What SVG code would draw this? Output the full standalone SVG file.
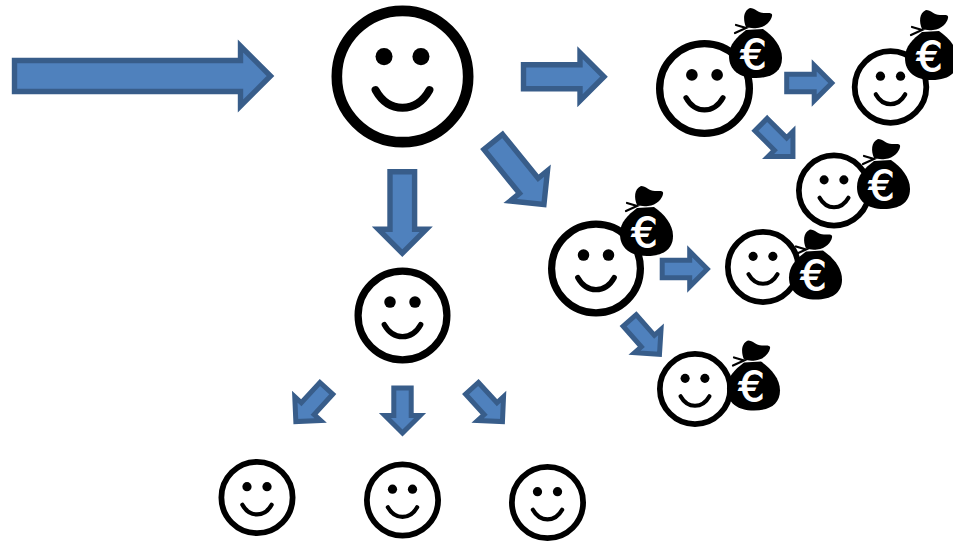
<svg xmlns="http://www.w3.org/2000/svg" width="953" height="542" viewBox="0 0 953 542">
<style>
.arrow{fill:#4f81bd;stroke:#385d8a;stroke-linejoin:miter}
.a5{stroke-width:5.4}
.a4{stroke-width:5}
.face{fill:#fff;stroke:#000;stroke-width:15}
.eye{fill:#000}
.mouth{fill:none;stroke:#000;stroke-width:11;stroke-linecap:round}
.bag{fill:#000}
.tie{fill:none;stroke:#000;stroke-width:2.2;stroke-linecap:round}
.euro{fill:#fff;stroke:#fff;stroke-width:1.1;font-family:"DejaVu Sans",sans-serif;font-size:41px;text-anchor:middle}
</style>
<defs>
<polygon id="mid" class="arrow a5" points="2.5,-12 59,-12 59,-24 83,0 59,24 59,12 2.5,12"/>
<polygon id="small" class="arrow a4" points="2.2,-8.7 29.7,-8.7 29.7,-17.6 47.3,0 29.7,17.6 29.7,8.7 2.2,8.7"/>
<g id="smile">
<circle class="face" r="92.5"/>
<circle class="eye" cx="-26" cy="-28" r="12"/>
<circle class="eye" cx="26" cy="-28" r="12"/>
<path class="mouth" d="M-38 19C-28 37 -14 44 0 44C14 44 28 37 38 19"/>
</g>
<g id="bag">
<path class="bag" d="M17 19C14 12 14 3 21 0C26 0 29 5 35 5C39 5 44 4 43 8C42 13 37 19 28 20C24 20.500 20 20 17 19Z"/>
<path class="bag" d="M17 22L34 21C44 28 53 38 53 50C53 64 42 70 27 70C10 70 0 62 0 48C0 36 8 29 17 22Z"/>
<path class="tie" d="M7 17L17 20L6 25"/>
<text class="euro" x="24.500" y="60.500">€</text>
</g>
</defs>
<g id="connectors">
<polygon class="arrow a5" points="14.5,60.5 240.5,60.5 240.5,46 270.5,76 240.5,106 240.5,91.5 14.5,91.5"/>
<use href="#mid" transform="translate(521,76.7)"/>
<use href="#mid" transform="translate(491.7,140) rotate(51)"/>
<polygon class="arrow a5" points="390,171.8 414.6,171.8 414.6,229.2 426.3,229.2 402.3,253.2 378.3,229.2 390,229.2"/>
<use href="#small" transform="translate(784.5,83)"/>
<use href="#small" transform="translate(759.5,123) rotate(45)"/>
<use href="#small" transform="translate(660,269)"/>
<use href="#small" transform="translate(628.2,318.8) rotate(48.6)"/>
<use href="#small" transform="translate(327.8,386.7) rotate(132.5)"/>
<use href="#small" transform="translate(402.5,385.7) rotate(90)"/>
<use href="#small" transform="translate(470.5,386.7) rotate(47.5)"/>
</g>
<g id="node-root"><use href="#smile" transform="translate(402.5,76.5) scale(.71)"/></g>
<g id="node-top-right"><use href="#smile" transform="translate(704.5,88.5) scale(.485)"/><use href="#bag" x="729" y="8"/></g>
<g id="node-far-right"><use href="#smile" transform="translate(890.5,87) scale(.387)"/><use href="#bag" x="905" y="10"/></g>
<g id="node-right-lower"><use href="#smile" transform="translate(834,190.5) scale(.38)"/><use href="#bag" x="857" y="139"/></g>
<g id="node-mid-right"><use href="#smile" transform="translate(596,268.5) scale(.48)"/><use href="#bag" x="620" y="186"/></g>
<g id="node-mid-far"><use href="#smile" transform="translate(763,267) scale(.38)"/><use href="#bag" x="789" y="229.5"/></g>
<g id="node-mid-lower"><use href="#smile" transform="translate(695,389) scale(.38)"/><use href="#bag" x="727" y="340.5"/></g>
<g id="node-center"><use href="#smile" transform="translate(402.5,315.5) scale(.48)"/></g>
<g id="node-bottom-left"><use href="#smile" transform="translate(257,497.5) scale(.385)"/></g>
<g id="node-bottom-mid"><use href="#smile" transform="translate(402.5,500) scale(.385)"/></g>
<g id="node-bottom-right"><use href="#smile" transform="translate(547.5,502.5) scale(.385)"/></g>
</svg>
